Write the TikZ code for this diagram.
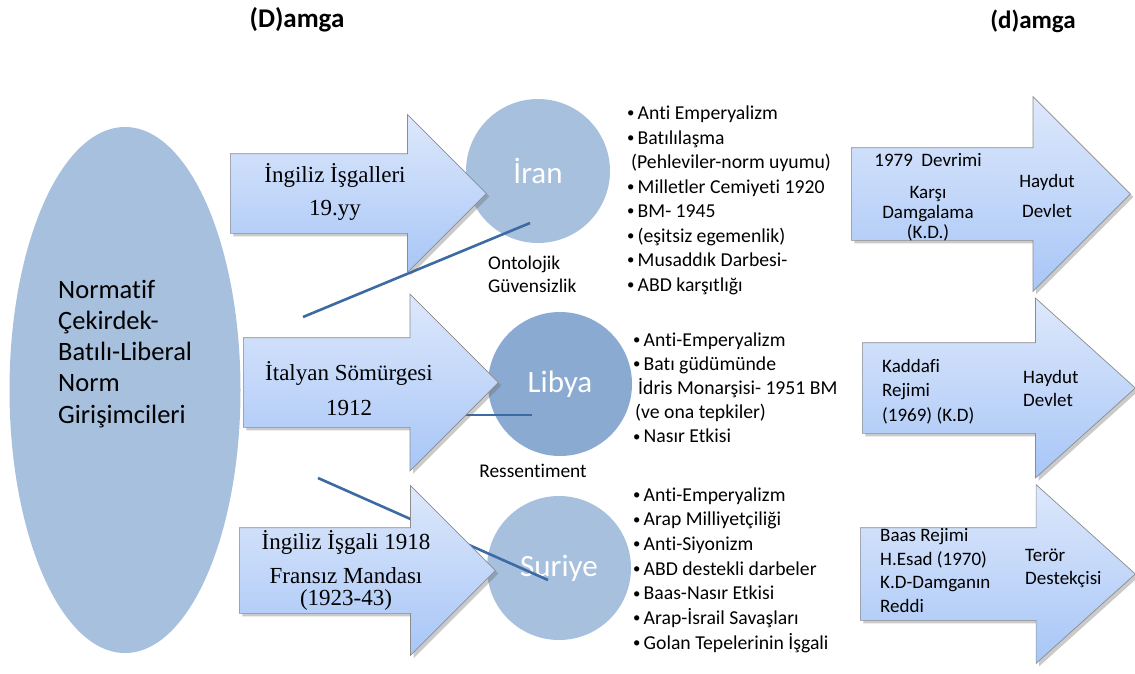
\documentclass[tikz,border=0pt]{standalone}
\usepackage{fontspec}
\setmainfont{Carlito}[Ligatures=NoCommon]
\newfontfamily\serifrm{Liberation Serif}
\usetikzlibrary{shapes.geometric,shapes.arrows,shadows,positioning,calc}
\definecolor{normfill}{HTML}{A7C0DE}
\definecolor{libfill}{HTML}{8AAAD2}
\definecolor{arrtop}{HTML}{DDE8FB}
\definecolor{arrbot}{HTML}{A8C6F7}
\definecolor{arredge}{HTML}{8C8C8C}
\definecolor{linkc}{HTML}{3C6AA3}
\newcommand\bul{\makebox[10.5pt][l]{\raisebox{1.6pt}{\scalebox{0.75}{•}}}}

\begin{document}
\begin{tikzpicture}[x=1pt,y=-1pt,
    state/.style={circle, fill=normfill, minimum size=144pt, inner sep=0pt,
                  text=white, font=\fontsize{31}{36}\selectfont},
    blockarr/.style={single arrow, draw=arredge, line width=0.7pt,
                     top color=arrtop, bottom color=arrbot, inner xsep=0pt,
                     anchor=tail, drop shadow={shadow xshift=3pt, shadow yshift=-3pt,
                     opacity=0.35, fill=black!60}},
    occlab/.style={font=\serifrm\fontsize{23}{33}\selectfont, align=center,
                   anchor=base, inner sep=0pt},
    stamp/.style={font=\fontsize{19}{24.5}\selectfont, align=left,
                  anchor=base west, inner sep=0pt},
    item/.style={font=\fontsize{19.7}{23}\selectfont, anchor=base west, inner sep=0pt},
    link/.style={draw=linkc, line width=2.6pt},
]
\useasboundingbox (0,0) rectangle (1135,673);

% titles
\node[font=\bfseries\fontsize{27}{32}\selectfont, anchor=base] (bigD) at (297,27) {(D)amga};
\node[font=\bfseries\fontsize{25}{30}\selectfont, anchor=base] (smalld) at (1033,28) {(d)amga};

% norm entrepreneurs (multi-line nodes sit on their last baseline)
\node[ellipse, fill=normfill, minimum width=231pt, minimum height=526pt, inner sep=0pt] (norm) at (125,390) {};
\node[font=\fontsize{26.5}{31.2}\selectfont, align=left, anchor=base west, inner sep=0pt] (normtxt) at (58,423)
    {Normatif\\Çekirdek-\\Batılı-Liberal\\Norm\\Girişimcileri};

% states
\node[state] (iran) at (538,171) {İran};
\node[state, fill=libfill] (libya) at (560,384) {Libya};
\node[state] (suriye) at (559,568) {Suriye};

% lines
\coordinate (irS) at (303,317);
\coordinate (irE) at (530,223);
\coordinate (lbS) at (455,415);
\coordinate (lbE) at (532,415);
\coordinate (syS) at (318,478);
\coordinate (syE) at (548,580);
\draw[link] (irS) -- (irE);
\draw[link] (lbS) -- (lbE);
\draw[link] (syS) -- (syE);

% occupation arrows
\node[blockarr, inner ysep=39.5pt, single arrow head extend=39pt, minimum height=256pt] (ingA) at (230,193.5) {};
\node[blockarr, inner ysep=44.5pt, single arrow head extend=43.5pt, minimum height=255pt] (itA) at (243,382.5) {};
\node[blockarr, inner ysep=42.5pt, single arrow head extend=42pt, minimum height=256pt] (frA) at (239,570.5) {};

\node[occlab] (ingtxt) at (335,215) {İngiliz İşgalleri\\19.yy};
\node[occlab, font=\serifrm\fontsize{23}{35}\selectfont] (ittxt) at (349,415) {İtalyan Sömürgesi\\1912};
\node[occlab, font=\serifrm\fontsize{23}{22}\selectfont] (frtxt) at (346,605)
    {İngiliz İşgali 1918\\[12pt]Fransız Mandası\\(1923-43)};

% stamping arrows
\node[blockarr, inner ysep=46pt, single arrow head extend=51pt, minimum height=279pt] (irD) at (851,194) {};
\node[blockarr, inner ysep=45pt, single arrow head extend=44.5pt, minimum height=273pt,
      single arrow tip angle=84] (lbD) at (862,388) {};
\node[blockarr, inner ysep=46pt, single arrow head extend=43pt, minimum height=275pt,
      single arrow tip angle=84] (syD) at (860,574) {};

\node[stamp, align=center, anchor=base, font=\fontsize{19}{20}\selectfont] (devrim) at (928,238)
    {1979~~Devrimi\\[12pt]Karşı\\Damgalama\\(K.D.)};
\node[stamp, align=center, anchor=base, font=\fontsize{19}{30}\selectfont] (haydA) at (1047,217) {Haydut\\Devlet};
\node[stamp] (kaddafi) at (882,421) {Kaddafi\\Rejimi\\(1969) (K.D)};
\node[stamp, font=\fontsize{19}{23}\selectfont] (haydB) at (1023,406) {Haydut\\Devlet};
\node[stamp, font=\fontsize{19}{23.5}\selectfont] (baas) at (880,612) {Baas Rejimi\\H.Esad (1970)\\K.D-Damganın\\Reddi};
\node[stamp, font=\fontsize{19}{22.5}\selectfont] (teror) at (1025,584) {Terör\\Destekçisi};

% side notes
\node[item, font=\fontsize{19.4}{23}\selectfont, align=left] (ontol) at (488,292) {Ontolojik\\Güvensizlik};
\node[item, font=\fontsize{19.4}{23}\selectfont, anchor=base] (ressent) at (533,477) {Ressentiment};

% lists
\foreach \txt [count=\i from 0] in {{\bul Anti Emperyalizm}, {\bul Batılılaşma},
    {\hspace*{4pt}(Pehleviler-norm uyumu)}, {\bul Milletler Cemiyeti 1920}, {\bul BM- 1945},
    {\bul (eşitsiz egemenlik)}, {\bul Musaddık Darbesi-}, {\bul ABD karşıtlığı}}
  \node[item] (ir\i) at (627,119.5+24.5*\i) {\txt};
\foreach \txt [count=\i from 0] in {{\bul Anti-Emperyalizm}, {\bul Batı güdümünde},
    {\hspace*{5pt}İdris Monarşisi- 1951 BM}, {\hspace*{2pt}(ve ona tepkiler)}, {\bul Nasır Etkisi}}
  \node[item] (lb\i) at (633,346+24.2*\i) {\txt};
\foreach \txt [count=\i from 0] in {{\bul Anti-Emperyalizm}, {\bul Arap Milliyetçiliği},
    {\bul Anti-Siyonizm}, {\bul ABD destekli darbeler}, {\bul Baas-Nasır Etkisi},
    {\bul Arap-İsrail Savaşları}, {\bul Golan Tepelerinin İşgali}}
  \node[item] (sy\i) at (633,501+24.7*\i) {\txt};

\end{tikzpicture}
\end{document}
